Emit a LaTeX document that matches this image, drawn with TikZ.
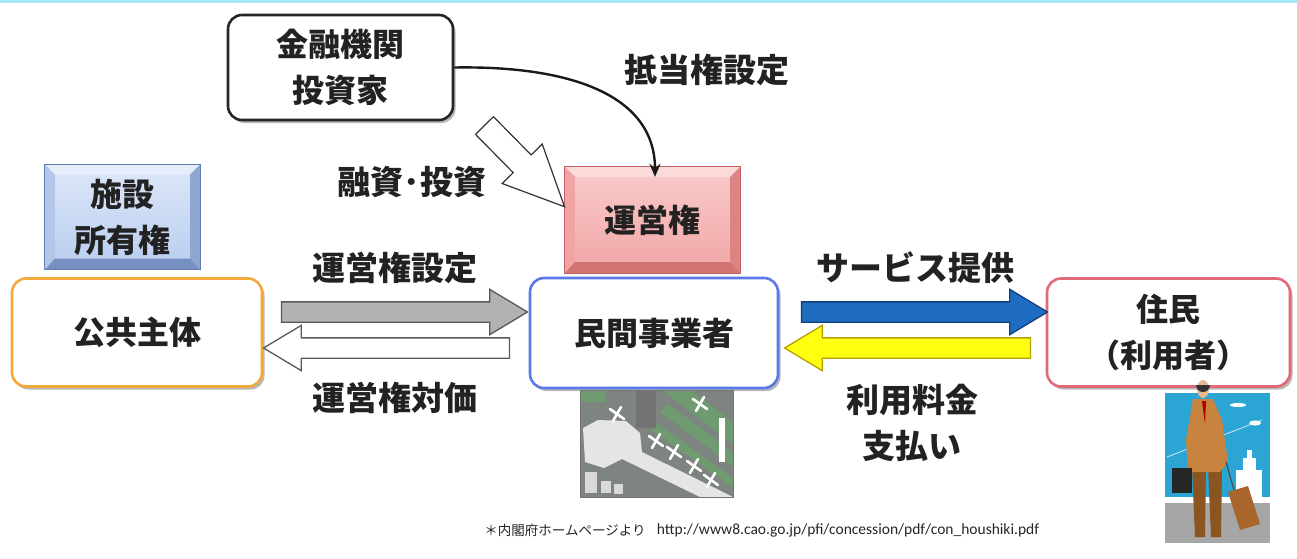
\documentclass[tikz,border=0pt]{standalone}
\usepackage{fontspec}
\newfontfamily\jp{Noto Sans CJK JP}
\newfontfamily\urlf{Carlito}
\usetikzlibrary{shapes.arrows,shadows,calc,arrows.meta}
\definecolor{cyanline}{HTML}{A6E6F7}
\definecolor{textc}{HTML}{222222}
\definecolor{orangeb}{HTML}{F2A93B}
\definecolor{blueb}{HTML}{5A78E6}
\definecolor{pinkb}{HTML}{E26A78}
\definecolor{blueA}{HTML}{1F6DC0}
\definecolor{blueD}{HTML}{143E7E}
\definecolor{yellowA}{HTML}{FFFF10}
\definecolor{yellowD}{HTML}{B8A000}
\definecolor{sbTop}{HTML}{DDE7F9}
\definecolor{sbBot}{HTML}{B9CDEF}
\definecolor{sbBevT}{HTML}{E6EEFB}
\definecolor{sbBevL}{HTML}{B4C7EA}
\definecolor{sbBevR}{HTML}{8EA6D2}
\definecolor{sbBevB}{HTML}{7690C2}
\definecolor{sbBord}{HTML}{5F7DB3}
\definecolor{pkTop}{HTML}{F9CACA}
\definecolor{pkBot}{HTML}{F2A6A6}
\definecolor{pkBevT}{HTML}{FBDADA}
\definecolor{pkBevL}{HTML}{F0A4A4}
\definecolor{pkBevR}{HTML}{DC8484}
\definecolor{pkBevB}{HTML}{D27474}
\definecolor{pkBord}{HTML}{C46262}
\definecolor{apgray}{HTML}{7E847F}
\definecolor{apgreen}{HTML}{6E9C70}
\definecolor{skyb}{HTML}{2AA5D4}
\definecolor{floorg}{HTML}{A6A6A6}
\definecolor{coatc}{HTML}{C8843E}
\definecolor{legc}{HTML}{8A5520}
\definecolor{suitc}{HTML}{A8662C}
\definecolor{skinc}{HTML}{E8B890}
\newcommand\bevelpaint[6]{%
  \fill[#2] (#1.north west) -- (#1.north east) -- ($(#1.north east)+(-10pt,-10pt)$) -- ($(#1.north west)+(10pt,-10pt)$) -- cycle;
  \fill[#3] (#1.north west) -- ($(#1.north west)+(10pt,-10pt)$) -- ($(#1.south west)+(10pt,11pt)$) -- (#1.south west) -- cycle;
  \fill[#4] (#1.north east) -- ($(#1.north east)+(-10pt,-10pt)$) -- ($(#1.south east)+(-10pt,11pt)$) -- (#1.south east) -- cycle;
  \fill[#5] (#1.south west) -- ($(#1.south west)+(10pt,11pt)$) -- ($(#1.south east)+(-10pt,11pt)$) -- (#1.south east) -- cycle;
  \draw[#6, line width=1.2pt] (#1.north west) rectangle (#1.south east);
}
\begin{document}
\begin{tikzpicture}[x=1pt,y=-1pt,
  jfont/.style={font=\jp\bfseries\fontsize{32}{46}\selectfont, text=textc},
  rbox/.style={draw=#1, line width=2.6pt, rounded corners=14pt, fill=white,
    drop shadow={shadow xshift=2.5pt, shadow yshift=-3pt, opacity=0.4, fill=black!70},
    jfont, align=center, inner sep=0pt},
  bface/.style={jfont, align=center, inner sep=0pt},
  lbl/.style={font=\jp\bfseries\fontsize{33}{46}\selectfont, text=textc, align=center, inner sep=0pt},
  harrow/.style={single arrow, single arrow head extend=12.5pt, single arrow tip angle=62,
    minimum height=246pt, inner xsep=0pt, inner ysep=9.5pt, line width=1.3pt},
  plane/.style={white, line width=2.6pt, line cap=round}
]
\useasboundingbox (0,0) rectangle (1297,558);
\fill[white] (0,0) rectangle (1297,558);
\fill[cyanline] (0,0) rectangle (1297,3);

% --- rounded boxes
\node[rbox=black!85, minimum width=225pt, minimum height=105pt] (fin) at (340.5,67.5) {金融機関\\投資家};
\node[rbox=orangeb, minimum width=250pt, minimum height=108pt] (kokyo) at (137,332.5) {公共主体};
\node[rbox=blueb, minimum width=248pt, minimum height=110pt] (minkan) at (654,333) {民間事業者};
\node[rbox=pinkb, minimum width=243pt, minimum height=108pt] (jumin) at (1168.5,332.5) {住民\\（利用者）};

% --- bevel boxes
\node[bface, minimum width=155pt, minimum height=105pt, top color=sbTop, bottom color=sbBot] (shisetsu) at (122.5,217) {};
\bevelpaint{shisetsu}{sbBevT}{sbBevL}{sbBevR}{sbBevB}{sbBord}
\node[bface] (shisetsuT) at (shisetsu.center) {施設\\所有権};
\node[bface, minimum width=175pt, minimum height=106pt, top color=pkTop, bottom color=pkBot] (unei) at (652.5,220) {};
\bevelpaint{unei}{pkBevT}{pkBevL}{pkBevR}{pkBevB}{pkBord}
\node[bface] (ueniT) at (unei.center) {運営権};

% --- funding arrow
\node[single arrow, single arrow head extend=15.5pt, single arrow tip angle=50,
  minimum height=114pt, inner xsep=0pt, inner ysep=12pt, draw=black!80, fill=white,
  line width=1.2pt, rotate=-45.4] (fund) at (515,156.5) {};
\node[lbl] (fundL) at (412,182) {融資･投資};

% --- mortgage curve
\coordinate (mEnd) at ($(unei.north)+(2.5pt,-10pt)$);
\draw[line width=2.4pt, black!90, -{Stealth[length=13pt,width=11pt]}]
  (fin.east) .. controls +(120,-2) and +(0,-80) .. (mEnd);
\node[lbl] (mortL) at (707,70) {抵当権設定};

% --- block arrows
\node[harrow, fill=black!30, draw=black!65] (setA) at (396,312) {};
\node[harrow, fill=white, draw=black!65, shape border rotate=180] (paidA) at (395,348) {};
\node[harrow, fill=blueA, draw=blueD] (svcA) at (916,312) {};
\node[harrow, fill=yellowA, draw=yellowD, shape border rotate=180] (payA) at (916,348) {};
\node[lbl] (setL) at (395,268) {運営権設定};
\node[lbl] (paidL) at (395,398) {運営権対価};
\node[lbl] (svcL) at (915,268) {サービス提供};
\node[lbl] (payL) at (912,423) {利用料金\\支払い};

% --- airport picture
\begin{scope}
  \clip (580,390) rectangle (733,497);
  \fill[apgray] (580,390) rectangle (733,497);
  \fill[apgreen] (580,390) rectangle (605,402);
  \fill[apgreen] (662,390) -- (690,390) -- (733,422) -- (733,444) -- cycle;
  \fill[apgreen] (660,412) -- (668,404) -- (733,452) -- (733,466) -- cycle;
  \fill[apgreen] (652,430) -- (658,424) -- (733,478) -- (733,488) -- cycle;
  \fill[black!55] (636,390) rectangle (656,428);
  \fill[black!10] (583,428) -- (598,420) -- (626,421) -- (640,433) -- (642,452) -- (733,497) -- (700,497) -- (622,459) -- (604,468) -- (585,462) -- cycle;
  \fill[black!15] (585,472) rectangle (597,493);
  \fill[black!15] (601,481) rectangle (611,493);
  \fill[black!15] (614,484) rectangle (623,494);
  \fill[white] (719,418) rectangle (725,462);
  \foreach \px/\py in {617/414, 700/404, 656/441, 674/452, 694/466, 711/480} {
    \draw[plane] (\px-7,\py-5) -- (\px+7,\py+5);
    \draw[plane] (\px+4,\py-7) -- (\px-4,\py+7);
  }
\end{scope}
\draw[black!55, line width=1pt] (580,390) rectangle (733,497);

% --- traveller picture
\fill[skyb] (1165,393) rectangle (1270,497);
\fill[white] (1165,497) rectangle (1270,503);
\fill[floorg] (1165,503) rectangle (1270,543);
\draw[white, opacity=0.7, line width=0.9pt] (1167,457) -- (1262,420);
\fill[white] (1236,470) rectangle (1262,497);
\fill[white] (1243,458) rectangle (1256,470);
\fill[white] (1247,450) rectangle (1252,458);
\fill[white] (1238,405) ellipse (8 and 2);
\fill[white] (1255,423) ellipse (6 and 2.5);
\fill[legc] (1192,466) -- (1206,466) -- (1205,537) -- (1195,537) -- cycle;
\fill[legc] (1208,466) -- (1222,466) -- (1221,537) -- (1211,537) -- cycle;
\fill[coatc] (1193,399) -- (1213,399) -- (1222,420) -- (1228,462) -- (1220,472) -- (1188,472) -- (1186,440) -- cycle;
\fill[red!70!black] (1202,401) -- (1206,401) -- (1205,424) -- cycle;
\fill[skinc] (1203,389) ellipse (6 and 9);
\fill[black!80] (1196,385) arc (180:0:7) -- cycle;
\fill[black!85] (1172,468) rectangle (1192,493);
\draw[black!70, line width=1.2pt] (1226,462) -- (1234,490);
\fill[suitc] (1228,492) -- (1248,486) -- (1260,524) -- (1240,530) -- cycle;

% --- footer
\node[font=\jp\fontsize{13.5}{16}\selectfont, text=black!85] (srcL) at (565,530) {＊内閣府ホームページより};
\node[font=\urlf\fontsize{15.5}{18}\selectfont, text=black!85] (urlL) at (848,530) {http://www8.cao.go.jp/pfi/concession/pdf/con\_houshiki.pdf};
\end{tikzpicture}
\end{document}
